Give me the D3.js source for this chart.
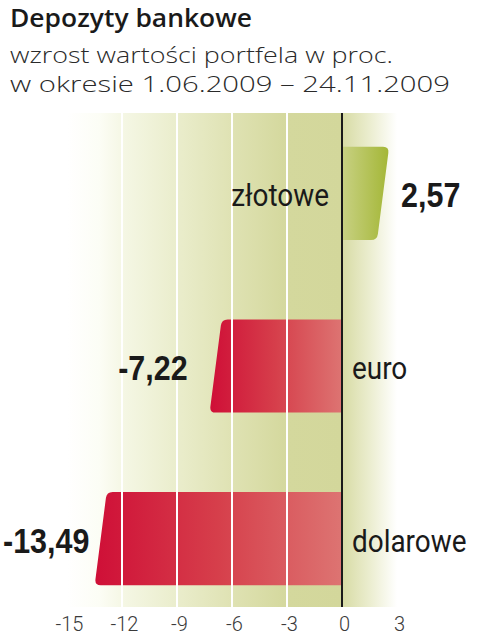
<!DOCTYPE html>
<html>
<head>
<meta charset="utf-8">
<title>Depozyty bankowe</title>
<script src="https://d3js.org/d3.v7.min.js"></script>
<style>
  body { margin: 0; background: #fff; }
  svg { display: block; }
</style>
</head>
<body>
<div id="chart"></div>
<script>
// data ...............................................
var categories = ["złotowe", "euro", "dolarowe"];
var values = [2.57, -7.22, -13.49];
var valueLabels = ["2,57", "-7,22", "-13,49"];
var tickValues = [-15, -12, -9, -6, -3, 0, 3];
var gridValues = [-12, -9, -6, -3];
var titleLines = ["Depozyty bankowe", "wzrost wartości portfela w proc.", "w okresie 1.06.2009 – 24.11.2009"];

var width = 479, height = 640;
var plotTop = 113, plotBottom = 607;

var svg = d3.select("#chart").append("svg")
  .attr("width", width)
  .attr("height", height);

var defs = svg.append("defs");

// scales ..............................................
var xScale = d3.scaleLinear()
  .domain([-15, 3])
  .range([67, 397]);

var yScale = d3.scaleBand()
  .domain(categories)
  .range([107, 625])
  .paddingInner(0.46)
  .paddingOuter(0.23);

// background gradients ................................
var bgLeft = defs.append("linearGradient")
  .attr("id", "bgLeft")
  .attr("gradientUnits", "userSpaceOnUse")
  .attr("x1", xScale(-15)).attr("x2", xScale(0))
  .attr("y1", 0).attr("y2", 0);
[[-15, "#ffffff"], [-13.2, "#fcfdf5"], [-12, "#f5f7e5"], [-9, "#eaedcc"],
 [-6, "#dfe2b3"], [-3, "#d4d89d"], [0, "#d3d79b"]].forEach(function(s) {
  bgLeft.append("stop")
    .attr("offset", (s[0] + 15) / 15)
    .attr("stop-color", s[1]);
});

var bgRight = defs.append("linearGradient")
  .attr("id", "bgRight")
  .attr("gradientUnits", "userSpaceOnUse")
  .attr("x1", xScale(0)).attr("x2", xScale(3))
  .attr("y1", 0).attr("y2", 0);
bgRight.append("stop").attr("offset", 0).attr("stop-color", "#d7dba4");
bgRight.append("stop").attr("offset", 0.5).attr("stop-color", "#ebedcf");
bgRight.append("stop").attr("offset", 1).attr("stop-color", "#ffffff");

var redGrad = defs.append("linearGradient").attr("id", "redGrad");
redGrad.append("stop").attr("offset", 0).attr("stop-color", "#cf0f37");
redGrad.append("stop").attr("offset", 0.5).attr("stop-color", "#d63f4b");
redGrad.append("stop").attr("offset", 1).attr("stop-color", "#dd7472");

var greenGrad = defs.append("linearGradient").attr("id", "greenGrad");
greenGrad.append("stop").attr("offset", 0).attr("stop-color", "#c8d183");
greenGrad.append("stop").attr("offset", 1).attr("stop-color", "#a4b737");

svg.append("rect")
  .attr("x", xScale(-15))
  .attr("y", plotTop)
  .attr("width", xScale(0) - xScale(-15))
  .attr("height", plotBottom - plotTop)
  .attr("fill", "url(#bgLeft)");

svg.append("rect")
  .attr("x", xScale(0))
  .attr("y", plotTop)
  .attr("width", xScale(3) - xScale(0))
  .attr("height", plotBottom - plotTop)
  .attr("fill", "url(#bgRight)");

// bars ................................................
var slant = 12, r = 6;
function barPath(v, cat) {
  var x0 = xScale(0), x1 = xScale(v);
  var y0 = yScale(cat), y1 = y0 + yScale.bandwidth();
  var h = y1 - y0, k = r / h;
  if (v >= 0) {
    return "M" + x0 + "," + y0 +
      "H" + (x1 - r) +
      "Q" + x1 + "," + y0 + " " + (x1 - slant * k) + "," + (y0 + r) +
      "L" + (x1 - slant * (1 - k)) + "," + (y1 - r) +
      "Q" + (x1 - slant) + "," + y1 + " " + (x1 - slant - r) + "," + y1 +
      "H" + x0 + "Z";
  }
  return "M" + x0 + "," + y0 +
    "H" + (x1 + slant + r) +
    "Q" + (x1 + slant) + "," + y0 + " " + (x1 + slant * (1 - k)) + "," + (y0 + r) +
    "L" + (x1 + slant * k) + "," + (y1 - r) +
    "Q" + x1 + "," + y1 + " " + (x1 + r) + "," + y1 +
    "H" + x0 + "Z";
}

svg.append("g").selectAll("path")
  .data(values)
  .enter()
  .append("path")
  .attr("d", function(d, i) { return barPath(d, categories[i]); })
  .attr("fill", function(d) { return d >= 0 ? "url(#greenGrad)" : "url(#redGrad)"; });

// grid lines (white, over bars) .......................
svg.append("g").selectAll("line")
  .data(gridValues)
  .enter()
  .append("line")
  .attr("x1", function(d) { return xScale(d); })
  .attr("x2", function(d) { return xScale(d); })
  .attr("y1", plotTop)
  .attr("y2", plotBottom)
  .attr("stroke", "#ffffff")
  .attr("stroke-width", 2);

// zero line
svg.append("line")
  .attr("x1", xScale(0)).attr("x2", xScale(0))
  .attr("y1", plotTop).attr("y2", plotBottom)
  .attr("stroke", "#1a1a1a")
  .attr("stroke-width", 2);

// category labels (slightly condensed) ................
var catSqueeze = 0.9;
svg.append("g").selectAll("text")
  .data(categories)
  .enter()
  .append("text")
  .attr("transform", function(d, i) {
    var x = values[i] >= 0 ? xScale(0) - 13 : xScale(0) + 10;
    var y = yScale(d) + yScale.bandwidth() / 2 + 13;
    return "translate(" + x + "," + y + ") scale(" + catSqueeze + ",1)";
  })
  .attr("text-anchor", function(d, i) { return values[i] >= 0 ? "end" : "start"; })
  .style("font-family", "Roboto, sans-serif")
  .style("font-size", "31px")
  .style("fill", "#1a1a1a")
  .text(function(d) { return d; });

// value labels (condensed bold) .......................
var squeeze = 0.87;
var vLabels = svg.append("g").selectAll("text")
  .data(values)
  .enter()
  .append("text")
  .style("font-family", "'Liberation Sans', Arial, sans-serif")
  .style("font-weight", "bold")
  .style("font-size", "35px")
  .style("fill", "#1a1a1a")
  .text(function(d, i) { return valueLabels[i]; });

vLabels.each(function(d, i) {
  var t = d3.select(this);
  var y = yScale(categories[i]) + yScale.bandwidth() / 2 + 14;
  var x;
  if (d >= 0) {
    x = xScale(d) + 12;
    t.attr("text-anchor", "start");
  } else {
    var w = this.getComputedTextLength() * squeeze;
    x = Math.max(xScale(d) - 22, w + 3);
    t.attr("text-anchor", "end");
  }
  t.attr("transform", "translate(" + x + "," + y + ") scale(" + squeeze + ",1)");
});

// x axis ..............................................
var xAxis = d3.axisBottom(xScale)
  .tickValues(tickValues)
  .tickSize(0)
  .tickPadding(0)
  .tickFormat(function(d) { return String(d); });

var xGuide = svg.append("g")
  .attr("transform", "translate(2,617)")
  .call(xAxis);
xGuide.select(".domain").remove();
xGuide.selectAll("text")
  .style("font-family", "Roboto, sans-serif")
  .style("font-weight", "300")
  .style("font-size", "20px")
  .style("fill", "#3a3a3a");

// title ...............................................
svg.append("text")
  .attr("x", 10).attr("y", 27)
  .attr("textLength", 242)
  .attr("lengthAdjust", "spacingAndGlyphs")
  .style("font-family", "'Open Sans', sans-serif")
  .style("font-weight", "600")
  .style("font-size", "25px")
  .style("fill", "#1a1a1a")
  .text(titleLines[0]);

svg.append("text")
  .attr("x", 10).attr("y", 63)
  .attr("textLength", 383)
  .attr("lengthAdjust", "spacingAndGlyphs")
  .style("font-family", "'Open Sans', sans-serif")
  .style("font-weight", "300")
  .style("font-size", "22px")
  .style("fill", "#2a2a2a")
  .text(titleLines[1]);

svg.append("text")
  .attr("x", 10).attr("y", 92)
  .attr("textLength", 440)
  .attr("lengthAdjust", "spacingAndGlyphs")
  .style("font-family", "'Open Sans', sans-serif")
  .style("font-weight", "300")
  .style("font-size", "22px")
  .style("fill", "#2a2a2a")
  .text(titleLines[2]);
</script>
</body>
</html>
